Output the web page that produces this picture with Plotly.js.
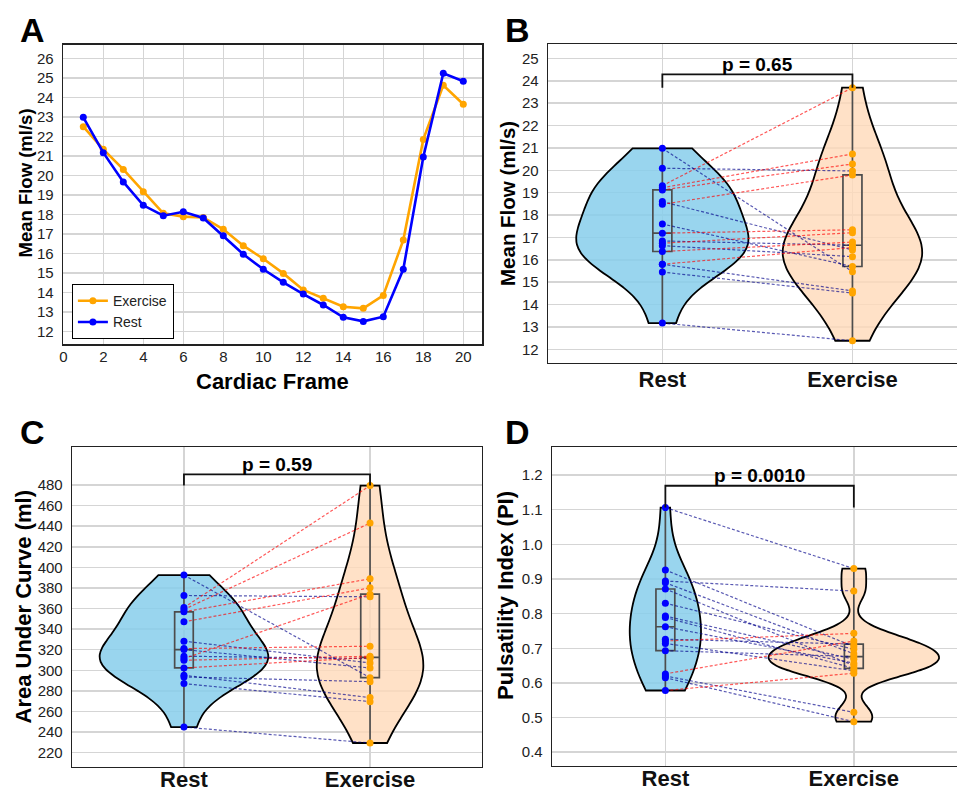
<!DOCTYPE html>
<html>
<head>
<meta charset="utf-8">
<script src="https://cdn.plot.ly/plotly-3.0.1.min.js"></script>
<style>
  html, body { margin: 0; padding: 0; background: #ffffff; overflow: hidden; }
  #chart { width: 975px; height: 791px; }
</style>
</head>
<body>
<div id="chart"></div>
<script>
// ---------- Panel A: mean flow over the cardiac cycle ----------
const frames = [1, 2, 3, 4, 5, 6, 7, 8, 9, 10, 11, 12, 13, 14, 15, 16, 17, 18, 19, 20];
const flowExercise = [22.51, 21.35, 20.32, 19.18, 18.07, 17.90, 17.86, 17.25, 16.41, 15.74,
                      14.99, 14.14, 13.71, 13.28, 13.20, 13.86, 16.70, 21.86, 24.63, 23.66];
const flowRest = [22.99, 21.18, 19.68, 18.48, 17.95, 18.15, 17.83, 16.92, 15.97, 15.20,
                  14.53, 13.93, 13.37, 12.74, 12.53, 12.77, 15.20, 20.96, 25.25, 24.84];

// ---------- Paired subject values (same subject at the same index) ----------
const conditions = ['Rest', 'Exercise'];

const meanFlowRest = [20.98, 20.09, 19.31, 19.22, 19.12, 18.60, 18.48, 17.60, 17.19, 16.84,
                      16.74, 16.63, 16.37, 15.80, 15.80, 15.45, 13.17];
const meanFlowExercise = [15.47, 19.97, 23.69, 20.73, 20.28, 16.44, 19.79, 15.70, 17.34, 16.65,
                          17.21, 16.14, 16.79, 16.55, 14.61, 14.51, 12.38];

const aucRest = [392.5, 372.7, 361.0, 359.1, 356.8, 347.1, 328.3, 321.1, 320.2, 313.7,
                 311.4, 309.8, 302.3, 295.2, 293.6, 287.1, 244.9];
const aucExercise = [292.9, 371.4, 479.4, 443.0, 388.9, 380.1, 307.2, 323.4, 302.3, 311.4,
                     374.0, 313.7, 312.5, 273.5, 289.0, 269.6, 229.4];

const piRest = [1.106, 0.926, 0.894, 0.889, 0.871, 0.830, 0.793, 0.789, 0.762, 0.726,
                0.721, 0.714, 0.693, 0.626, 0.620, 0.615, 0.578];
const piExercise = [0.930, 0.705, 0.865, 0.684, 0.650, 0.697, 0.668, 0.642, 0.657, 0.712,
                    0.743, 0.635, 0.676, 0.721, 0.515, 0.488, 0.628];

const pLabels = ['p = 0.65', 'p = 0.59', 'p = 0.0010'];

// Tick values for each y axis
const ticksA = [12, 13, 14, 15, 16, 17, 18, 19, 20, 21, 22, 23, 24, 25, 26];
const ticksB = [12, 13, 14, 15, 16, 17, 18, 19, 20, 21, 22, 23, 24, 25];
const ticksC = [220, 240, 260, 280, 300, 320, 340, 360, 380, 400, 420, 440, 460, 480];
const ticksD = [0.4, 0.5, 0.6, 0.7, 0.8, 0.9, 1.0, 1.1, 1.2];

// ---------- Styling ----------
const FONT = 'Arial, "Liberation Sans", Helvetica, sans-serif';
const W = 975, H = 791;
const REST_COLOR = '#0000ff';
const EX_COLOR = '#ffa500';
const REST_FILL = 'rgba(135,206,235,0.85)';
const EX_FILL = 'rgba(255,218,185,0.80)';
const UP_LINE = 'rgba(255,0,0,0.65)';
const DOWN_LINE = 'rgba(0,0,139,0.65)';
const GRID = '#d5d5d5';

const px = v => v / W;
const py = v => 1 - v / H;

// ---------- Helpers ----------
function sortedCopy(a) { return a.slice().sort((p, q) => p - q); }
function quantile(s, p) {
  const idx = (s.length - 1) * p;
  const lo = Math.floor(idx), hi = Math.ceil(idx);
  return s[lo] + (s[hi] - s[lo]) * (idx - lo);
}

const traces = [];

// Panel A lines
traces.push({
  type: 'scatter', mode: 'lines+markers', name: 'Exercise', legendrank: 1,
  x: frames, y: flowExercise, xaxis: 'x', yaxis: 'y',
  line: { color: EX_COLOR, width: 2.6 }, marker: { color: EX_COLOR, size: 7 },
  hoverinfo: 'skip'
});
traces.push({
  type: 'scatter', mode: 'lines+markers', name: 'Rest', legendrank: 2,
  x: frames, y: flowRest, xaxis: 'x', yaxis: 'y',
  line: { color: REST_COLOR, width: 2.6 }, marker: { color: REST_COLOR, size: 7 },
  hoverinfo: 'skip'
});

// Paired violin panels
function pairedPanel(n, rest, ex, pText, legLift) {
  const xa = 'x' + n, ya = 'y' + n;
  const group = 'g' + n;
  // both violins of a panel share one scale group so their widths compare by density
  [[rest, conditions[0], REST_FILL], [ex, conditions[1], EX_FILL]].forEach(([vals, cat, fill]) => {
    traces.push({
      type: 'violin', x0: cat, y: vals, xaxis: xa, yaxis: ya,
      spanmode: 'hard', scalegroup: group, scalemode: 'width',
      points: false, box: { visible: false }, meanline: { visible: false },
      fillcolor: fill, line: { color: '#000000', width: 1.8 },
      showlegend: false, hoverinfo: 'skip'
    });
  });
  [[rest, conditions[0]], [ex, conditions[1]]].forEach(([vals, cat]) => {
    const s = sortedCopy(vals);
    traces.push({
      type: 'box', x: [cat], q1: [quantile(s, 0.25)], median: [quantile(s, 0.5)],
      q3: [quantile(s, 0.75)], lowerfence: [s[0]], upperfence: [s[s.length - 1]],
      xaxis: xa, yaxis: ya, width: 0.1, whiskerwidth: 0, boxpoints: false,
      fillcolor: 'rgba(0,0,0,0)', line: { color: '#4d4d4d', width: 1.7 },
      showlegend: false, hoverinfo: 'skip'
    });
  });
  // connecting lines, red where the value rises, dark blue where it falls
  const up = { x: [], y: [] }, down = { x: [], y: [] };
  rest.forEach((r, i) => {
    const t = ex[i] > r ? up : down;
    t.x.push(conditions[0], conditions[1], null);
    t.y.push(r, ex[i], null);
  });
  [[down, DOWN_LINE], [up, UP_LINE]].forEach(([t, c]) => {
    traces.push({
      type: 'scatter', mode: 'lines', x: t.x, y: t.y, xaxis: xa, yaxis: ya,
      line: { color: c, width: 1.2, dash: '3px,2px' }, connectgaps: false,
      showlegend: false, hoverinfo: 'skip'
    });
  });
  traces.push({
    type: 'scatter', mode: 'markers', x: rest.map(() => conditions[0]), y: rest,
    xaxis: xa, yaxis: ya, marker: { color: REST_COLOR, size: 7 },
    showlegend: false, hoverinfo: 'skip'
  });
  traces.push({
    type: 'scatter', mode: 'markers', x: ex.map(() => conditions[1]), y: ex,
    xaxis: xa, yaxis: ya, marker: { color: EX_COLOR, size: 7 },
    showlegend: false, hoverinfo: 'skip'
  });
  // significance bracket
  const top = Math.max(...rest, ...ex);
  const bar = top + legLift;
  traces.push({
    type: 'scatter', mode: 'lines',
    x: [conditions[0], conditions[0], conditions[1], conditions[1]],
    y: [top, bar, bar, top], xaxis: xa, yaxis: ya,
    line: { color: '#111111', width: 1.8 }, showlegend: false, hoverinfo: 'skip'
  });
  return { xref: xa, yref: ya, x: 0.5, y: bar, text: pText };
}

const brackets = [
  pairedPanel(2, meanFlowRest, meanFlowExercise, pLabels[0], 0.6),
  pairedPanel(3, aucRest, aucExercise, pLabels[1], 11),
  pairedPanel(4, piRest, piExercise, pLabels[2], 0.063)
];

// ---------- Axes ----------
const tickFont = { family: FONT, size: 15, color: '#222222' };
function yAxis(domain, range, vals, fmt, anchor) {
  return {
    domain: domain, range: range, tickvals: vals, tickformat: fmt || '',
    showgrid: true, gridcolor: GRID, gridwidth: 1.5, zeroline: false,
    showline: true, mirror: true, linecolor: '#222222', linewidth: 1.6,
    ticks: '', ticklabelstandoff: 5, tickfont: tickFont, anchor: anchor, fixedrange: true
  };
}
function catAxis(domain, anchor, standoff) {
  return {
    domain: domain, type: 'category', categoryorder: 'array', categoryarray: conditions,
    range: [-0.6, 1.6], showgrid: true, gridcolor: GRID, gridwidth: 1.5, zeroline: false,
    showline: true, mirror: true, linecolor: '#222222', linewidth: 1.6, ticks: '',
    ticklabelstandoff: standoff,
    tickfont: { family: FONT, size: 22, color: '#111111', weight: 'bold' },
    anchor: anchor, fixedrange: true
  };
}

const layout = {
  width: W, height: H,
  margin: { l: 0, r: 0, t: 0, b: 0 },
  paper_bgcolor: '#ffffff', plot_bgcolor: '#ffffff',
  font: { family: FONT, color: '#222222' },
  violinmode: 'overlay', violingap: 0.095, violingroupgap: 0, boxmode: 'overlay',
  xaxis: {
    domain: [px(63.3), px(482.3)], range: [0, 20.95], tick0: 0, dtick: 2,
    showgrid: true, gridcolor: GRID, gridwidth: 1.5, zeroline: false,
    showline: true, mirror: true, linecolor: '#222222', linewidth: 1.6,
    ticks: '', ticklabelstandoff: -2, tickfont: tickFont, anchor: 'y', fixedrange: true
  },
  yaxis: yAxis([py(344), py(45)], [11.37, 26.7], ticksA, '', 'x'),
  xaxis2: catAxis([px(548.3), px(966.5)], 'y2', -4),
  yaxis2: yAxis([py(362.7), py(44.3)], [11.4, 25.63], ticksB, '', 'x2'),
  xaxis3: catAxis([px(72.3), px(481.7)], 'y3', -8),
  yaxis3: yAxis([py(766.5), py(447.3)], [206.6, 516.6], ticksC, '', 'x3'),
  xaxis4: catAxis([px(552.3), px(966.9)], 'y4', -8),
  yaxis4: yAxis([py(765.7), py(447.3)], [0.361, 1.28], ticksD, '.1f', 'x4'),
  showlegend: true,
  legend: {
    x: px(71.7), y: py(284), xanchor: 'left', yanchor: 'top',
    bgcolor: '#ffffff', bordercolor: '#000000', borderwidth: 1.2,
    font: { family: FONT, size: 14, color: '#222222' }, itemwidth: 30
  },
  annotations: []
};

// Panel letters
[['A', 32, 30], ['B', 517, 30], ['C', 32, 432], ['D', 517, 432]].forEach(([t, x, y]) => {
  layout.annotations.push({
    xref: 'paper', yref: 'paper', x: px(x), y: py(y), xanchor: 'center', yanchor: 'middle',
    text: t, showarrow: false, font: { family: FONT, size: 34, color: '#000000', weight: 'bold' }
  });
});

// Axis titles
[
  ['Mean Flow (ml/s)', 25, 183.5, 18.5],
  ['Mean Flow (ml/s)', 507, 204, 20.5],
  ['Area Under Curve (ml)', 23, 606.5, 22],
  ['Pulsatility Index (PI)', 505, 596, 22]
].forEach(([t, x, y, s]) => {
  layout.annotations.push({
    xref: 'paper', yref: 'paper', x: px(x), y: py(y), xanchor: 'center', yanchor: 'middle',
    text: t, textangle: -90, showarrow: false,
    font: { family: FONT, size: s, color: '#000000', weight: 'bold' }
  });
});
layout.annotations.push({
  xref: 'paper', yref: 'paper', x: px(272.7), y: py(381), xanchor: 'center', yanchor: 'middle',
  text: 'Cardiac Frame', showarrow: false,
  font: { family: FONT, size: 22, color: '#000000', weight: 'bold' }
});

// p-value labels above the brackets
brackets.forEach(b => {
  layout.annotations.push({
    xref: b.xref, yref: b.yref, x: b.x, y: b.y, xanchor: 'center', yanchor: 'middle',
    yshift: 10, text: b.text, showarrow: false,
    font: { family: FONT, size: 19, color: '#000000', weight: 'bold' }
  });
});

Plotly.newPlot('chart', traces, layout, { displayModeBar: false, staticPlot: true });
</script>
</body>
</html>
